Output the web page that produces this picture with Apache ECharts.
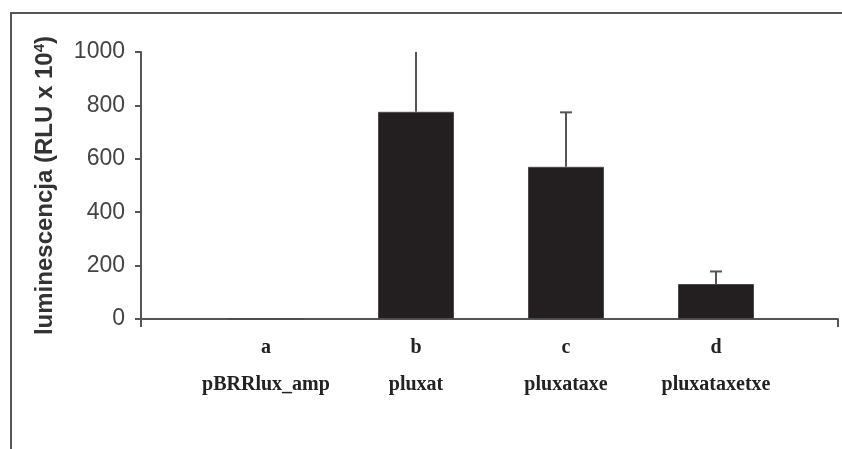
<!DOCTYPE html>
<html>
<head>
<meta charset="utf-8">
<script src="https://cdn.jsdelivr.net/npm/echarts@6/dist/echarts.min.js"></script>
<style>
  html, body { margin: 0; padding: 0; background: #fff; }
  #chart { width: 842px; height: 449px; }
</style>
</head>
<body>
<div id="chart"></div>
<script>
// group letters + plasmid names
const letters = ['a', 'b', 'c', 'd'];
const plasmids = ['pBRRlux_amp', 'pluxat', 'pluxataxe', 'pluxataxetxe'];
// luminescence, RLU x 10^4
const values = [0, 776, 570, 131];
const errors = [0, 244, 204, 47];
const yTicks = [0, 200, 400, 600, 800, 1000];

const Y_MAX = yTicks[yTicks.length - 1];
const AXIS_COLOR = '#555';

const chart = echarts.init(document.getElementById('chart'));

const errData = values.map(function (v, i) { return [i, v, v + errors[i]]; });

chart.setOption({
  animation: false,
  backgroundColor: '#fff',
  grid: [
    // grid 0 carries the visible axes (wider than the bar area)
    { left: 141, right: 4, top: 52, bottom: 130 },
    // grid 1 carries the bars
    { left: 191, right: 51, top: 52, bottom: 130 }
  ],
  xAxis: [
    {
      gridIndex: 0, type: 'value', min: 0, max: 1, interval: 1,
      axisLine: { show: true, lineStyle: { color: AXIS_COLOR, width: 2 } },
      axisTick: { show: true, length: 8, lineStyle: { color: AXIS_COLOR, width: 2 } },
      axisLabel: { show: false },
      splitLine: { show: false }
    },
    {
      gridIndex: 1, type: 'category',
      data: letters,
      axisLine: { show: false },
      axisTick: { show: false },
      axisLabel: {
        interval: 0,
        margin: 10,
        fontFamily: 'Liberation Serif',
        fontWeight: 'bold',
        fontSize: 20,
        lineHeight: 37,
        color: '#222',
        formatter: function (v, i) { return v + '\n' + plasmids[i]; }
      }
    }
  ],
  yAxis: [
    {
      gridIndex: 0, type: 'value', min: 0, max: Y_MAX, interval: 200,
      axisLine: { show: true, lineStyle: { color: AXIS_COLOR, width: 2 } },
      axisTick: { show: true, length: 6, lineStyle: { color: AXIS_COLOR, width: 2 } },
      splitLine: { show: false },
      axisLabel: {
        margin: 16,
        fontFamily: 'Liberation Sans',
        fontSize: 23,
        color: '#444',
        formatter: function (v) { return String(v); }
      },
      name: '{t|luminescencja (RLU x 10}{s|4}{t|)}',
      nameLocation: 'middle',
      nameRotate: 90,
      nameGap: 83,
      nameTextStyle: {
        rich: {
          t: { fontFamily: 'Liberation Sans', fontWeight: 'bold', fontSize: 24, color: '#333' },
          s: { fontFamily: 'Liberation Sans', fontWeight: 'bold', fontSize: 15, color: '#333', padding: [0, 0, 11, 0] }
        }
      }
    },
    {
      gridIndex: 1, type: 'value', min: 0, max: Y_MAX, show: false
    }
  ],
  graphic: [
    {
      type: 'polyline',
      shape: { points: [[11, 449], [11, 13], [842, 13]] },
      style: { stroke: AXIS_COLOR, lineWidth: 2, fill: null },
      silent: true
    }
  ],
  series: [
    {
      type: 'bar',
      xAxisIndex: 1, yAxisIndex: 1,
      data: values,
      barWidth: 76,
      itemStyle: { color: '#231f20', borderColor: '#4a4a4a', borderWidth: 1 },
      z: 2
    },
    {
      type: 'custom',
      xAxisIndex: 1, yAxisIndex: 1,
      data: errData,
      z: 1,
      renderItem: function (params, api) {
        const i = api.value(0);
        const lo = api.value(1);
        const hi = api.value(2);
        if (hi <= lo) return null;
        const top = Math.min(hi, Y_MAX);
        const p0 = api.coord([i, lo]);
        const p1 = api.coord([i, top]);
        const style = { stroke: '#555', lineWidth: 2 };
        const children = [
          { type: 'line', shape: { x1: p0[0], y1: p0[1], x2: p1[0], y2: p1[1] }, style: style }
        ];
        // cap only when the whisker stays inside the plot range
        if (hi <= Y_MAX) {
          children.push({ type: 'line', shape: { x1: p1[0] - 6, y1: p1[1], x2: p1[0] + 6, y2: p1[1] }, style: style });
        }
        return { type: 'group', children: children };
      }
    }
  ]
});
</script>
</body>
</html>
